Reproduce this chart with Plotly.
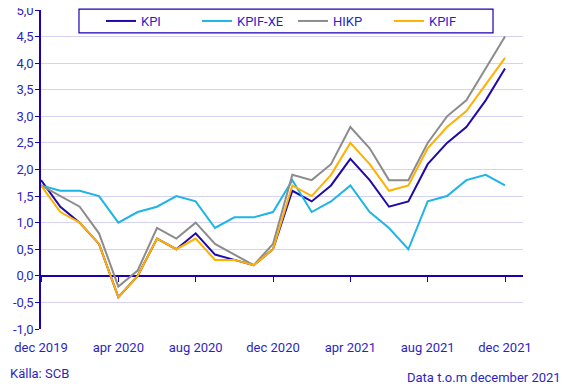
import plotly.graph_objects as go

months = ["dec 2019", "jan 2020", "feb 2020", "mar 2020", "apr 2020", "maj 2020", "jun 2020",
          "jul 2020", "aug 2020", "sep 2020", "okt 2020", "nov 2020", "dec 2020",
          "jan 2021", "feb 2021", "mar 2021", "apr 2021", "maj 2021", "jun 2021",
          "jul 2021", "aug 2021", "sep 2021", "okt 2021", "nov 2021", "dec 2021"]

kpi = [1.8, 1.3, 1.0, 0.6, -0.4, 0.0, 0.7, 0.5, 0.8, 0.4, 0.3, 0.2, 0.5,
       1.6, 1.4, 1.7, 2.2, 1.8, 1.3, 1.4, 2.1, 2.5, 2.8, 3.3, 3.9]
kpif_xe = [1.7, 1.6, 1.6, 1.5, 1.0, 1.2, 1.3, 1.5, 1.4, 0.9, 1.1, 1.1, 1.2,
           1.8, 1.2, 1.4, 1.7, 1.2, 0.9, 0.5, 1.4, 1.5, 1.8, 1.9, 1.7]
hikp = [1.7, 1.5, 1.3, 0.8, -0.2, 0.1, 0.9, 0.7, 1.0, 0.6, 0.4, 0.2, 0.6,
        1.9, 1.8, 2.1, 2.8, 2.4, 1.8, 1.8, 2.5, 3.0, 3.3, 3.9, 4.5]
kpif = [1.7, 1.2, 1.0, 0.6, -0.4, 0.0, 0.7, 0.5, 0.7, 0.3, 0.3, 0.2, 0.5,
        1.7, 1.5, 1.9, 2.5, 2.1, 1.6, 1.7, 2.4, 2.8, 3.1, 3.6, 4.1]

y_ticks = [-1.0, -0.5, 0.0, 0.5, 1.0, 1.5, 2.0, 2.5, 3.0, 3.5, 4.0, 4.5, 5.0]
y_ticktext = [f"{v:.1f}".replace(".", ",") for v in y_ticks]
x_tick_idx = [0, 4, 8, 12, 16, 20, 24]

TEXT = "#2e1fc4"
AXIS = "#1a00b4"
GRID = "#d6d2f2"
FONT = "Roboto"

x = list(range(len(months)))
series = [("KPI", kpi, "#1e0aa8"), ("KPIF-XE", kpif_xe, "#1eb4e6"),
          ("HIKP", hikp, "#8c8c8c"), ("KPIF", kpif, "#ffb000")]

fig = go.Figure()
for name, vals, col in series:
    fig.add_trace(go.Scatter(x=x, y=vals, name=name, mode="lines",
                             line=dict(color=col, width=2)))

# invisible trace on second x-axis to draw ticks at the zero line
fig.add_trace(go.Scatter(x=x, y=kpi, xaxis="x2", showlegend=False,
                         mode="lines", line=dict(width=0), hoverinfo="skip", opacity=0))

y_min, y_max = -1.0, 5.0
x_max = 24.93

# the page body adds an 8px offset; figure size compensates
fig.update_layout(
    width=560, height=381,
    margin=dict(l=33, r=45, t=2, b=60, autoexpand=False),
    paper_bgcolor="white", plot_bgcolor="white",
    font=dict(family=FONT, size=13, color=TEXT),
    xaxis=dict(range=[0, x_max], tickvals=x_tick_idx,
               ticktext=[months[i] for i in x_tick_idx],
               showgrid=False, zeroline=False, showline=False,
               ticks="outside", ticklen=6, tickcolor="rgba(0,0,0,0)",
               automargin=False, ticklabeloverflow="allow",
               tickfont=dict(size=13, color=TEXT)),
    xaxis2=dict(range=[0, x_max], overlaying="x", anchor="free",
                position=(0 - y_min) / (y_max - y_min),
                tickvals=x_tick_idx, showticklabels=False, ticks="outside",
                ticklen=5, tickcolor=AXIS, tickwidth=1, showline=False,
                showgrid=False, zeroline=False, side="bottom", automargin=False),
    yaxis=dict(range=[y_min, y_max], tickvals=y_ticks, ticktext=y_ticktext,
               showgrid=True, gridcolor=GRID, gridwidth=1,
               zeroline=True, zerolinecolor=AXIS, zerolinewidth=1.5,
               showline=True, linecolor=AXIS, linewidth=1.5,
               ticks="outside", ticklen=4, tickcolor=AXIS, automargin=False,
               ticklabelstandoff=-1, ticklabeloverflow="allow",
               tickfont=dict(size=13, color=TEXT)),
    legend=dict(orientation="h", x=0.1245, y=0.9655, xanchor="left", yanchor="middle",
                borderwidth=0, bgcolor="rgba(0,0,0,0)",
                entrywidth=51, itemwidth=30,
                font=dict(size=13, color=TEXT)),
    showlegend=True,
)

# legend frame
fig.add_shape(type="rect", xref="paper", yref="paper",
              x0=0.0788, x1=0.9378, y0=0.928, y1=1.003,
              line=dict(color=AXIS, width=1.2), fillcolor="white", layer="below")

fig.add_annotation(text="Källa: SCB", xref="paper", yref="paper", x=0, y=0,
                   xshift=-33, yshift=-44, xanchor="left", yanchor="middle",
                   showarrow=False, font=dict(size=13, color=TEXT))
fig.add_annotation(text="Data t.o.m december 2021", xref="paper", yref="paper", x=1, y=0,
                   xshift=40, yshift=-48, xanchor="right", yanchor="middle",
                   showarrow=False, font=dict(size=13, color=TEXT))

fig.write_html("out.html")
